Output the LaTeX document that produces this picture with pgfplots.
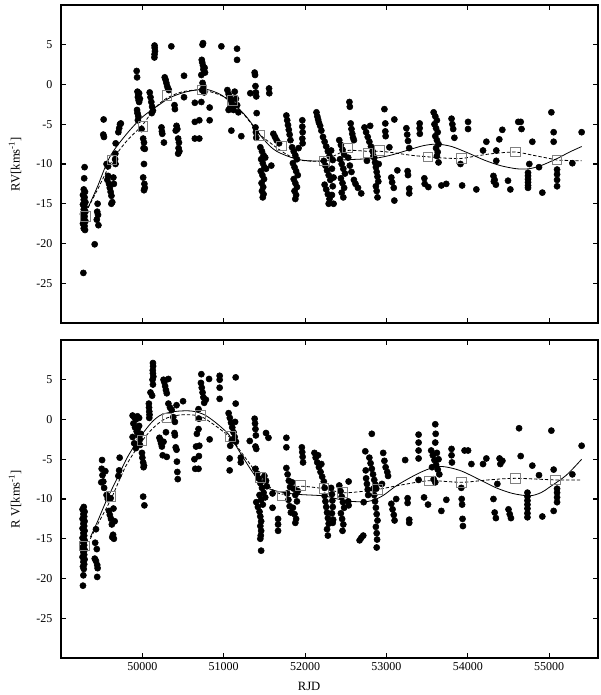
\documentclass[border=0pt]{standalone}
\usepackage{pgfplots}
\pgfplotsset{compat=1.18}
\usepackage{fontspec}
\setmainfont{Liberation Serif}

\pgfplotsset{
  rvpanel/.style={
    scale only axis, width=402.75pt, height=238.5pt,
    xmin=49000, xmax=55600, ymin=-30, ymax=10,
    xtick={50000,51000,...,55000}, ytick={-25,-20,...,5},
    scaled x ticks=false,
    tick align=inside, major tick length=4pt,
    axis line style={line width=1.1pt},
    every tick/.style={black, line width=0.8pt},
    /pgf/number format/assume math mode=true,
    x tick label style={/pgf/number format/1000 sep={}},
    tick label style={font=\fontsize{9}{10}\selectfont},
    label style={font=\fontsize{9.5}{11}\selectfont},
    yticklabel style={xshift=-3pt},
    ylabel style={at={(axis description cs:-0.0857,0.5)}, anchor=center},
  },
  dots/.style={only marks, mark=*, mark size=2.3pt, black},
  fitsolid/.style={black, line width=0.6pt, smooth, no markers},
  fitdash/.style={black, line width=0.6pt, dash pattern=on 2.5pt off 1.5pt, smooth, no markers},
  boxes/.style={only marks, mark=square, mark size=3.6pt, color=black!50, mark options={line width=0.6pt}},
}

\begin{document}
\begin{tikzpicture}
\path[use as bounding box] (-45.75pt,-279pt) rectangle (404.25pt,242.25pt);

% ---------------- top panel ----------------
\begin{axis}[rvpanel, xticklabels={}, ylabel={RV[kms\textsuperscript{-1}]}]
\addplot[dots] coordinates {
(49290,-10.4) (49285,-11.8) (49280,-13.2) (49295,-13.5) (49270,-13.9) (49290,-14.2) (49280,-14.5) (49300,-14.8) (49270,-15.1) (49290,-15.4) (49280,-15.7) (49300,-16.0) (49270,-16.3) (49290,-16.6) (49280,-16.9) (49300,-17.2) (49270,-17.5) (49290,-17.8) (49280,-18.1) (49295,-18.3) (49275,-23.7)
(49414,-20.1)
(49450,-15.0) (49445,-16.0) (49455,-16.4) (49440,-17.0) (49460,-17.7)
(49524,-4.4) (49520,-6.3) (49528,-6.6)
(49560,-10.0) (49580,-11.5) (49570,-12.0) (49590,-12.5) (49600,-13.0) (49610,-13.5) (49620,-14.0) (49630,-14.8) (49578,-10.3) (49644,-11.7) (49650,-12.5) (49619,-15.0)
(49668,-8.7) (49665,-9.4) (49670,-10.0) (49672,-7.4)
(49705,-6.0) (49715,-5.5) (49725,-5.0) (49735,-4.9)
(49930,1.7) (49935,0.9) (49940,-0.9) (49950,-1.3) (49945,-1.6) (49955,-2.0) (49960,-2.2) (49935,-3.2) (49940,-3.6) (49950,-4.0) (49945,-4.5) (49960,-1.1) (49970,-1.8)
(49990,-5.6)
(50010,-6.8) (50020,-7.3) (50015,-8.0) (50030,-8.1) (50020,-10.0) (50010,-11.7) (50025,-12.5) (50030,-13.0) (50020,-13.3)
(50090,-1.0) (50100,-1.6) (50110,-2.2) (50120,-2.8) (50130,-3.3) (50115,-3.6)
(50150,4.9) (50152,4.6) (50155,4.2) (50150,3.8) (50148,3.4)
(50235,-5.4) (50240,-5.9) (50245,-6.2) (50265,-7.3)
(50275,0.9) (50285,0.6) (50295,0.2) (50305,-0.2) (50315,-0.5) (50325,-0.7)
(50356,4.8)
(50395,-2.6) (50400,-3.1) (50420,-5.2) (50430,-5.6) (50410,-5.8) (50440,-6.8) (50450,-7.3) (50445,-8.0) (50440,-8.7) (50455,-8.4)
(50512,1.1) (50512,-1.6)
(50645,-2.3) (50645,-4.7) (50645,-6.8)
(50746,5.2) (50740,5.0) (50730,3.1) (50735,2.8) (50745,2.4) (50750,1.9) (50725,1.2) (50740,0.2) (50755,-0.3) (50735,-0.7) (50760,-1.0) (50725,-2.2) (50700,-4.5) (50700,-6.8) (50770,1.5) (50765,2.1)
(50827,-2.9) (50827,-4.5)
(50971,4.8)
(51045,-0.7) (51060,-1.2) (51075,-1.6) (51090,-2.0) (51100,-2.4) (51110,-2.8) (51120,-3.2) (51135,-0.9) (51150,-1.8) (51165,-2.6) (51180,-3.5) (51080,-2.9) (51060,-3.2)
(51094,-5.8) (51216,-6.5)
(51164,4.5) (51164,3.1)
(51327,-1.1)
(51380,1.5) (51385,1.2) (51390,-0.2) (51395,-1.0) (51400,-1.5) (51405,-3.6) (51390,-5.4) (51395,-6.0) (51400,-6.7)
(51557,-0.5) (51560,-1.1)
(51450,-7.9) (51470,-8.4) (51490,-8.9) (51460,-9.4) (51480,-9.9) (51500,-10.4) (51455,-10.9) (51475,-11.4) (51495,-11.9) (51465,-12.4) (51485,-12.9) (51470,-13.4) (51490,-13.8) (51480,-14.2) (51510,-9.2) (51520,-10.6)
(51585,-10.2)
(51610,-6.2) (51630,-6.6) (51650,-7.0) (51680,-7.4)
(51770,-3.9) (51780,-4.5) (51790,-5.1) (51800,-5.7) (51810,-6.3) (51820,-7.0)
(51840,-7.9) (51860,-8.4) (51880,-8.9) (51900,-9.4) (51850,-9.9) (51870,-10.4) (51890,-10.9) (51910,-11.4) (51860,-11.9) (51880,-12.4) (51900,-12.9) (51870,-13.4) (51890,-13.9) (51880,-14.4) (51920,-8.0)
(51966,-4.5) (51966,-5.3) (51970,-6.0) (51966,-6.8) (51970,-7.4)
(52140,-3.5) (52150,-4.0) (52160,-4.4) (52170,-4.8) (52185,-5.2) (52200,-5.8)
(52220,-6.6) (52240,-7.2) (52260,-7.8) (52280,-8.4) (52300,-9.0) (52230,-9.6) (52250,-10.2) (52270,-10.8) (52290,-11.4) (52310,-12.0) (52240,-12.6) (52260,-13.2) (52280,-13.8) (52300,-14.4) (52290,-15.0) (52320,-8.3) (52340,-9.5) (52330,-10.6) (52350,-11.7) (52340,-12.8) (52330,-13.9) (52350,-15.0)
(52420,-7.0) (52440,-7.6) (52460,-8.2) (52480,-8.8) (52430,-9.4) (52450,-10.0) (52470,-10.6) (52490,-11.2) (52440,-11.8) (52460,-12.4) (52480,-13.0) (52450,-13.6) (52470,-14.2)
(52545,-2.2) (52550,-2.8) (52560,-4.9) (52570,-5.6) (52580,-6.2) (52590,-6.7) (52600,-7.0)
(52530,-9.2) (52550,-10.2) (52570,-11.0) (52600,-12.0) (52620,-12.5) (52650,-13.0)
(52690,-13.7)
(52730,-5.4) (52750,-6.0) (52770,-6.6) (52790,-7.2) (52810,-7.8) (52830,-8.4) (52840,-9.0) (52760,-9.6) (52800,-5.2)
(52850,-9.2) (52860,-9.8) (52870,-10.4) (52880,-11.0) (52890,-11.6) (52900,-12.2) (52870,-12.8) (52880,-13.4) (52890,-14.2) (52905,-10.0)
(52975,-3.1) (52986,-4.9) (52986,-5.9) (52990,-6.5)
(53036,-7.9) (53097,-4.4)
(53060,-11.7) (53070,-12.3) (53090,-13.0) (53097,-14.6) (53134,-10.8)
(53245,-5.5) (53255,-6.3) (53265,-7.1) (53280,-8.0)
(53260,-10.9) (53265,-11.4) (53280,-13.1) (53280,-13.7)
(53408,-4.9) (53408,-5.5) (53410,-6.2)
(53466,-11.8) (53470,-12.5) (53515,-12.9)
(53580,-3.5) (53600,-4.0) (53620,-4.5) (53590,-5.0) (53610,-5.5) (53630,-6.0) (53600,-6.5) (53620,-7.0) (53640,-7.5) (53610,-8.0) (53630,-8.5) (53620,-9.0) (53640,-9.8)
(53675,-12.7) (53735,-12.5)
(53800,-4.3) (53810,-5.0) (53820,-5.6) (53835,-6.7)
(53910,-10.0) (53930,-12.7)
(54003,-4.7) (54003,-5.6)
(54105,-13.2) (54187,-8.3) (54228,-7.2)
(54315,-11.5) (54330,-12.0) (54345,-12.6) (54320,-12.2)
(54350,-9.6) (54350,-8.3) (54387,-6.9) (54424,-5.7)
(54494,-12.1) (54523,-13.2)
(54620,-4.7) (54650,-4.7) (54660,-5.6)
(54740,-11.1) (54740,-11.5) (54740,-11.9) (54740,-12.3) (54740,-12.7) (54740,-13.0)
(54756,-10.0) (54793,-7.2) (54875,-10.4) (54916,-13.6)
(55027,-3.5) (55055,-6.0) (55055,-7.2)
(55097,-10.7) (55097,-11.3) (55097,-12.0) (55097,-12.8)
(55285,-9.9) (55399,-6.0)
};
\addplot[fitsolid] coordinates {
(49333,-15.5) (49450,-12.8) (49600,-9.1) (49800,-6.3) (50000,-4.1) (50200,-2.6) (50350,-1.6) (50550,-0.9) (50775,-0.6) (50950,-1.2) (51060,-2.0) (51160,-2.8) (51266,-3.9) (51350,-5.0) (51434,-6.2) (51500,-7.0) (51573,-7.8) (51650,-8.4) (51757,-8.9) (51900,-9.4) (52050,-9.6) (52250,-9.6) (52450,-9.5) (52650,-9.4) (52850,-9.3) (53050,-8.9) (53250,-8.3) (53450,-7.7) (53620,-7.5) (53800,-7.8) (54000,-8.6) (54200,-9.5) (54400,-10.2) (54600,-10.6) (54750,-10.6) (54900,-10.2) (55100,-9.3) (55250,-8.5) (55400,-7.8)
};
\addplot[fitdash] coordinates {
(49333,-15.5) (49450,-13.2) (49628,-9.6) (49800,-7.2) (50009,-5.0) (50150,-3.0) (50303,-1.7) (50500,-0.9) (50734,-0.7) (50950,-1.3) (51105,-2.2) (51266,-4.0) (51446,-6.3) (51580,-7.4) (51712,-8.4) (51850,-9.2) (52000,-9.6) (52240,-9.6) (52350,-9.0) (52520,-8.3) (52770,-8.4) (52920,-8.4) (53100,-8.6) (53300,-8.9) (53511,-9.1) (53700,-9.25) (53920,-9.3) (54100,-9.0) (54300,-8.7) (54584,-8.5) (54800,-8.9) (55000,-9.3) (55097,-9.5) (55400,-9.6)
};
\addplot[boxes] coordinates {
(49300,-16.6) (49628,-9.5) (50009,-5.3) (50303,-1.4) (50734,-0.7) (51105,-2.0) (51446,-6.4) (51712,-7.7) (52239,-9.6) (52520,-8.0) (52773,-8.6) (52917,-8.3) (53511,-9.1) (53920,-9.3) (54584,-8.5) (55097,-9.5)
};
\end{axis}

% ---------------- bottom panel ----------------
\begin{axis}[rvpanel, at={(0pt,-251.25pt)}, anchor=south west,
  xlabel={RJD}, ylabel={R V[kms\textsuperscript{-1}]},
  xlabel style={at={(axis description cs:0.462,-0.088)}, anchor=center}]
\addplot[dots] coordinates {
(49280,-11.0) (49265,-11.3) (49290,-11.6) (49275,-11.9) (49285,-12.2) (49265,-12.5) (49290,-12.8) (49275,-13.1) (49285,-13.4) (49265,-13.7) (49290,-14.0) (49275,-14.3) (49285,-14.6) (49265,-14.9) (49290,-15.2) (49275,-15.5) (49285,-15.8) (49265,-16.1) (49290,-16.4) (49275,-16.7) (49285,-17.0) (49265,-17.3) (49290,-17.6) (49275,-17.9) (49285,-18.2) (49270,-18.5) (49280,-18.8) (49275,-19.6) (49270,-20.9)
(49430,-13.8) (49420,-15.5) (49440,-16.3) (49415,-17.5) (49430,-17.8) (49445,-18.3) (49450,-18.7) (49445,-19.8)
(49505,-5.1)
(49500,-6.2) (49510,-7.0) (49520,-7.8) (49495,-7.9) (49530,-8.6) (49545,-6.5)
(49560,-9.5) (49575,-10.0) (49590,-11.5) (49600,-12.0) (49615,-12.5) (49625,-13.2) (49640,-14.5) (49650,-15.0) (49630,-14.8) (49610,-9.9) (49645,-11.2) (49660,-12.8)
(49721,-4.8) (49715,-6.4) (49705,-7.1)
(49880,0.5) (49900,0.3) (49920,0.0) (49940,0.4) (49960,0.2) (49890,-0.5) (49910,-1.0) (49930,-1.5) (49950,-2.0) (49970,-2.5) (49900,-3.0) (49920,-3.6) (49940,-1.2) (49960,-0.8) (49980,-1.8) (49880,-2.2) (49970,-3.2)
(49995,-4.2) (50000,-4.8) (50010,-5.4) (50020,-5.8) (50015,-6.0)
(50010,-9.7) (50025,-10.8)
(50130,7.1) (50132,6.7) (50128,6.2) (50130,5.8) (50135,5.4) (50125,5.0) (50130,4.4) (50100,3.4) (50080,2.0) (50082,1.5) (50085,1.0) (50088,0.6) (50085,0.2) (50120,3.0)
(50210,-2.3) (50220,-2.6) (50230,-3.0) (50240,-3.4) (50250,-4.5) (50300,-4.7) (50290,-1.6) (50260,-2.8)
(50260,5.0) (50270,4.7) (50280,4.2) (50290,3.7) (50300,3.3) (50320,5.1)
(50320,2.0) (50340,1.5) (50360,1.2) (50380,0.3) (50400,-0.3) (50420,1.8)
(50395,-1.7) (50400,-2.0) (50410,-3.5) (50420,-3.8) (50425,-5.3) (50430,-6.6) (50435,-7.5)
(50500,2.3)
(50640,-5.0) (50650,-6.2) (50660,-3.4) (50670,-1.8)
(50725,5.7) (50720,4.6) (50730,4.0) (50740,3.4) (50750,2.8) (50760,2.1) (50780,2.5)
(50690,1.3) (50695,0.1) (50690,-1.2) (50700,-3.3) (50695,-4.6) (50690,-6.2)
(50820,5.1) (50827,-2.5)
(50950,5.5) (50950,5.0) (50950,4.0) (50950,2.6)
(51147,5.3) (51147,2.0)
(51060,0.8) (51075,0.2) (51090,-0.4) (51105,-1.0) (51120,-1.6) (51135,-2.2) (51150,-2.8) (51080,-3.3) (51100,-2.6) (51140,-0.3)
(51073,-4.9) (51073,-6.4)
(51210,-4.8) (51210,-5.4)
(51320,-2.7)
(51380,0.1) (51385,-0.5) (51390,-1.2) (51395,-2.0) (51390,-3.4) (51400,-3.7)
(51520,-1.7) (51550,-2.3)
(51390,-6.2) (51410,-6.8) (51430,-7.4) (51450,-8.0) (51470,-8.6) (51490,-9.2) (51510,-9.8) (51400,-10.4) (51420,-11.0) (51440,-9.5) (51460,-10.1) (51480,-10.7) (51500,-7.1) (51520,-7.7) (51530,-8.4)
(51440,-11.6) (51450,-12.2) (51460,-12.8) (51450,-13.4) (51460,-14.0) (51455,-14.6) (51450,-15.0) (51460,-16.5)
(51600,-9.3) (51600,-11.1)
(51668,-12.5) (51668,-13.2) (51668,-14.0)
(51770,-2.3) (51770,-3.5)
(51770,-6.1) (51785,-6.9) (51800,-7.7) (51815,-8.5) (51780,-9.3) (51795,-10.1) (51810,-10.9) (51825,-11.7)
(51840,-7.9) (51860,-8.7) (51880,-9.5) (51900,-10.3) (51850,-11.1) (51870,-11.9) (51890,-12.5) (51880,-13.0) (51910,-9.0)
(51960,-3.5) (51965,-4.1) (51970,-4.7) (51975,-5.4)
(52115,-4.2) (52130,-4.8) (52150,-5.4) (52170,-6.0) (52190,-6.6) (52210,-7.2) (52230,-7.8) (52240,-8.6) (52160,-4.5) (52200,-5.6)
(52240,-9.6) (52250,-10.3) (52260,-11.0) (52270,-11.7) (52280,-12.4) (52290,-13.1) (52270,-13.8) (52280,-14.6)
(52320,-8.6) (52330,-9.4) (52335,-10.2) (52340,-11.0) (52330,-11.8) (52345,-12.6) (52340,-13.0)
(52420,-8.3) (52435,-9.0) (52450,-9.7) (52465,-10.4) (52480,-11.1) (52440,-11.8) (52455,-12.5) (52470,-13.2) (52460,-14.0)
(52535,-7.8) (52530,-10.3) (52535,-10.8)
(52670,-15.2) (52690,-14.9) (52715,-14.6)
(52720,-10.4)
(52740,-4.0) (52745,-6.4) (52750,-7.4) (52760,-8.1) (52770,-8.8) (52775,-9.5)
(52790,-4.8) (52805,-5.5) (52820,-6.2) (52835,-6.9) (52850,-7.6) (52865,-8.2) (52875,-8.7)
(52820,-1.8)
(52840,-8.7) (52850,-9.5) (52860,-10.3) (52870,-11.1) (52880,-11.9) (52890,-12.7) (52870,-13.5) (52880,-14.3) (52885,-15.1) (52880,-16.1)
(52960,-4.2) (52975,-5.2) (52990,-6.0) (53010,-6.6) (53020,-7.1)
(52945,-8.1)
(53060,-10.6) (53075,-11.3) (53090,-12.0) (53100,-12.7)
(53120,-10.0) (53230,-5.1)
(53260,-9.9) (53260,-10.5) (53280,-12.6) (53280,-13.0)
(53395,-1.9) (53395,-2.9) (53395,-3.9) (53395,-4.9) (53395,-7.6)
(53462,-9.8) (53511,-10.7)
(53550,-3.9) (53570,-4.5) (53590,-5.1) (53610,-5.7) (53630,-6.3) (53650,-6.9) (53580,-7.5) (53600,-7.9) (53620,-4.2) (53640,-5.0) (53560,-6.0)
(53600,-0.6) (53605,-1.8) (53600,-2.9)
(53675,-11.5) (53736,-10.1)
(53800,-3.7) (53800,-4.5) (53805,-5.4)
(53920,-8.6) (53925,-10.0) (53930,-10.7) (53935,-12.5) (53940,-13.4)
(53960,-3.9) (54003,-3.9) (54044,-5.6)
(54187,-5.6) (54228,-4.9)
(54315,-10.0) (54330,-11.7) (54345,-12.4)
(54363,-8.1)
(54390,-4.9) (54400,-5.6) (54425,-5.2)
(54500,-11.3) (54515,-11.9) (54530,-12.4)
(54630,-1.1) (54650,-4.6)
(54733,-9.2) (54733,-9.7) (54733,-10.2) (54733,-10.7) (54733,-11.2) (54733,-11.8) (54733,-12.3)
(54793,-5.8) (54875,-7.0) (54916,-12.2)
(55027,-1.4) (55055,-6.3)
(55097,-8.7) (55097,-9.2) (55097,-9.8) (55097,-10.4)
(55055,-11.5) (55285,-6.9) (55399,-3.3)
};
\addplot[fitsolid] coordinates {
(49361,-14.8) (49450,-12.8) (49558,-10.2) (49700,-7.2) (49824,-4.6) (49988,-2.0) (50120,-0.3) (50234,0.6) (50397,1.0) (50550,1.1) (50643,1.0) (50740,0.7) (50825,0.2) (50950,-0.8) (51070,-2.0) (51192,-4.0) (51340,-6.4) (51483,-8.3) (51647,-9.0) (51893,-9.4) (52220,-9.6) (52400,-10.0) (52568,-10.3) (52774,-10.3) (52937,-9.7) (53142,-8.2) (53429,-6.6) (53650,-5.9) (53900,-6.4) (54150,-7.6) (54350,-8.6) (54550,-9.3) (54760,-9.6) (54900,-9.2) (55006,-8.5) (55211,-7.0) (55399,-5.0)
};
\addplot[fitdash] coordinates {
(49361,-15.0) (49450,-13.2) (49615,-10.0) (49800,-5.8) (49996,-2.7) (50150,-0.9) (50303,0.2) (50500,0.6) (50713,0.4) (50900,-0.8) (51082,-2.3) (51250,-4.6) (51450,-7.3) (51600,-8.8) (51717,-9.4) (51820,-8.9) (51942,-8.4) (52229,-8.7) (52455,-9.2) (52650,-9.1) (52892,-8.8) (53200,-8.2) (53531,-7.7) (53920,-7.9) (54250,-7.6) (54584,-7.4) (55076,-7.6) (55400,-7.6)
};
\addplot[boxes] coordinates {
(49287,-15.9) (49615,-9.7) (49996,-2.6) (50303,0.2) (50713,0.5) (51082,-2.1) (51450,-7.3) (51717,-9.6) (51942,-8.3) (52229,-8.7) (52455,-9.2) (52892,-8.8) (53531,-7.7) (53920,-7.9) (54584,-7.4) (55076,-7.6)
};
\end{axis}
\end{tikzpicture}
\end{document}
